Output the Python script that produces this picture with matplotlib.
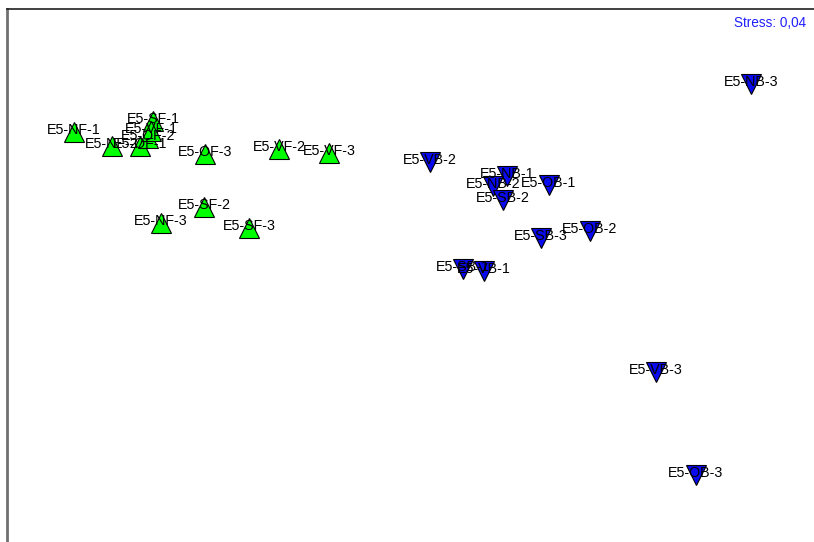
import matplotlib
matplotlib.use("Agg")
from matplotlib import pyplot as plt

plt.rcParams['font.family'] = ['Liberation Sans', 'DejaVu Sans']

# MDS ordination coordinates
f_labels = ["E5-NF-1", "E5-NF-2", "E5-NF-3",
            "E5-SF-1", "E5-SF-2", "E5-SF-3",
            "E5-OF-1", "E5-OF-2", "E5-OF-3",
            "E5-VF-1", "E5-VF-2", "E5-VF-3"]
f_x = [-3.26, -2.88, -2.39, -2.47, -1.96, -1.51, -2.60, -2.52, -1.95, -2.49, -1.21, -0.71]
f_y = [1.38, 1.24, 0.47, 1.49, 0.63, 0.42, 1.24, 1.32, 1.16, 1.39, 1.21, 1.17]

b_labels = ["E5-NB-1", "E5-NB-2", "E5-NB-3",
            "E5-SB-1", "E5-SB-2", "E5-SB-3",
            "E5-OB-1", "E5-OB-2", "E5-OB-3",
            "E5-VB-1", "E5-VB-2", "E5-VB-3"]
b_x = [1.07, 0.93, 3.51, 0.63, 1.03, 1.41, 1.49, 1.90, 2.96, 0.84, 0.30, 2.56]
b_y = [0.94, 0.84, 1.86, 0.01, 0.70, 0.32, 0.85, 0.39, -2.05, -0.01, 1.08, -1.02]

stress = "Stress: 0,04"

fig = plt.figure(figsize=(8.14, 5.42), dpi=100)
ax = fig.add_axes([7 / 814, -0.01, 1.0, (542 - 9) / 542 + 0.01])
ax.set_xlim(-3.93, 4.21)
ax.set_ylim(-2.774, 2.61)

ax.plot(f_x, f_y, '^', color='#00ff00', markeredgecolor='black',
        markeredgewidth=0.8, markersize=14, linestyle='none', zorder=2)
ax.plot(b_x, b_y, 'v', color='#0a0aee', markeredgecolor='black',
        markeredgewidth=0.8, markersize=14.5, linestyle='none', zorder=2)

for lab, x, y in zip(f_labels, f_x, f_y):
    ax.text(x, y + 0.02, lab, ha='center', va='center', fontsize=10.3, zorder=3)
for lab, x, y in zip(b_labels, b_x, b_y):
    ax.text(x, y + 0.02, lab, ha='center', va='center', fontsize=10.3, zorder=3)

fig.text(806 / 814, 1 - 23 / 542, stress, ha='right', va='center',
         fontsize=9.8, color='#2020ff')

ax.set_xticks([])
ax.set_yticks([])
ax.spines['right'].set_visible(False)
ax.spines['bottom'].set_visible(False)
ax.spines['top'].set_color('#202020')
ax.spines['top'].set_linewidth(1.2)
ax.spines['left'].set_color('#707070')
ax.spines['left'].set_linewidth(2)

fig.savefig("out.png", dpi=100)
